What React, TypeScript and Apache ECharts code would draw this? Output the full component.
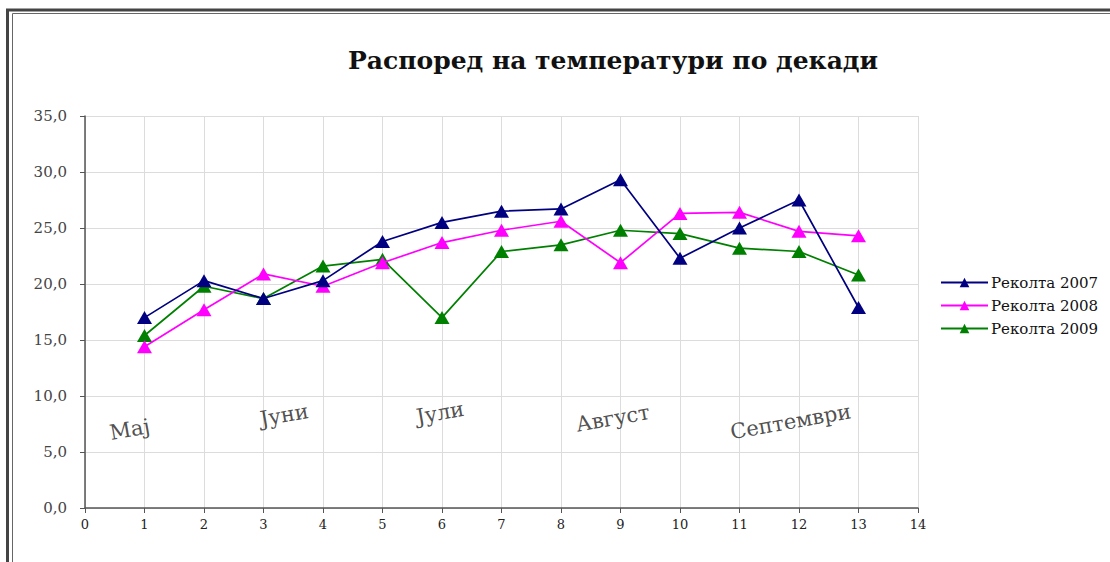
import React, { useEffect, useRef } from "react";
import * as echarts from "echarts";

// Decades of the season (May to September) and mean temperatures per harvest year
const decades = [1, 2, 3, 4, 5, 6, 7, 8, 9, 10, 11, 12, 13];
const harvest2007 = [17.0, 20.3, 18.7, 20.3, 23.8, 25.5, 26.5, 26.7, 29.3, 22.3, 25.0, 27.5, 17.9];
const harvest2008 = [14.4, 17.7, 20.9, 19.8, 21.9, 23.7, 24.8, 25.6, 21.9, 26.3, 26.4, 24.7, 24.3];
const harvest2009 = [15.4, 19.8, 18.7, 21.6, 22.2, 17.0, 22.9, 23.5, 24.8, 24.5, 23.2, 22.9, 20.8];

const seriesNames = ["Реколта 2007", "Реколта 2008", "Реколта 2009"];
const seriesColors = ["#000080", "#ff00ff", "#008000"];

// Month captions placed inside the plot, in axis units
const monthNames = ["Мај", "Јуни", "Јули", "Август", "Септември"];
const monthAnchors: [number, number][] = [
  [0.75, 7.0],
  [3.35, 8.3],
  [5.97, 8.5],
  [8.87, 8.0],
  [11.86, 7.7],
];

const SERIF = "'DejaVu Serif', 'Liberation Serif', serif";

export default function App() {
  const ref = useRef<HTMLDivElement>(null);

  useEffect(() => {
    if (!ref.current) return;
    const chart = echarts.init(ref.current, undefined, { renderer: "svg" });

    const valueSeries = [harvest2007, harvest2008, harvest2009].map((vals, i) => ({
      name: seriesNames[i],
      type: "line",
      data: decades.map((d, j) => [d, vals[j]]),
      symbol: "triangle",
      symbolSize: [15, 13],
      itemStyle: { color: seriesColors[i] },
      lineStyle: { color: seriesColors[i], width: 1.7 },
      z: 5 - i,
    }));

    chart.setOption({
      animation: false,
      backgroundColor: "#ffffff",
      title: {
        text: "Распоред на температури по декади",
        left: 608,
        top: 43,
        textAlign: "center",
        textStyle: {
          fontFamily: SERIF,
          fontWeight: "bold",
          fontSize: 25,
          color: "#111",
        },
      },
      legend: {
        orient: "vertical",
        left: 940,
        top: 275,
        padding: 0,
        itemWidth: 47,
        itemHeight: 12,
        itemGap: 8,
        data: seriesNames,
        textStyle: { fontFamily: SERIF, fontSize: 15, color: "#111", padding: [0, 0, 0, -2] },
      },
      grid: { left: 85, right: 192, top: 116, bottom: 54 },
      xAxis: {
        type: "value",
        min: 0,
        max: 14,
        interval: 1,
        axisLine: { show: true, onZero: false, lineStyle: { color: "#555", width: 1.5 } },
        axisTick: { show: true, length: 5, lineStyle: { color: "#555" } },
        axisLabel: { fontFamily: SERIF, fontSize: 13, color: "#222", margin: 10 },
        splitLine: { show: true, lineStyle: { color: "#dcdcdc", width: 1 } },
      },
      yAxis: {
        type: "value",
        min: 0,
        max: 35,
        interval: 5,
        axisLine: { show: true, onZero: false, lineStyle: { color: "#555", width: 1.5 } },
        axisTick: { show: true, length: 5, lineStyle: { color: "#555" } },
        axisLabel: {
          fontFamily: SERIF,
          fontSize: 15,
          color: "#444",
          margin: 18,
          formatter: (v: number) => v.toFixed(1).replace(".", ","),
        },
        splitLine: { show: true, lineStyle: { color: "#dcdcdc", width: 1 } },
      },
      series: [
        ...valueSeries,
        {
          name: "months",
          type: "scatter",
          symbolSize: 0,
          silent: true,
          data: monthAnchors.map((p, i) => ({ value: p, name: monthNames[i] })),
          label: {
            show: true,
            position: "inside",
            rotate: 10,
            formatter: (p: any) => p.name,
            fontFamily: SERIF,
            fontSize: 21,
            color: "#222",
          },
          z: 1,
        },
      ],
      graphic: [
        {
          type: "rect",
          shape: { x: 7.5, y: 10, width: 1300, height: 800 },
          style: { fill: "none", stroke: "#444", lineWidth: 3 },
          silent: true,
        },
        {
          type: "rect",
          shape: { x: 12.5, y: 13.5, width: 1300, height: 800 },
          style: { fill: "none", stroke: "#666", lineWidth: 1 },
          silent: true,
        },
      ],
    });

    return () => chart.dispose();
  }, []);

  return (
    <div
      ref={ref}
      style={{ position: "fixed", left: 0, top: 0, width: 1110, height: 562 }}
    />
  );
}
